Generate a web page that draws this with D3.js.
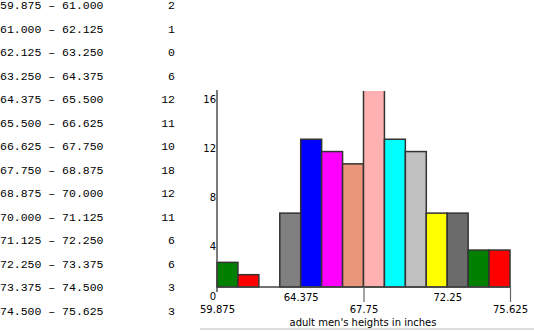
<!DOCTYPE html>
<html><head><meta charset="utf-8">
<script src="https://cdn.jsdelivr.net/npm/d3@7"></script>
<style>
html,body{margin:0;padding:0;background:#fff;}
svg{display:block;}
</style></head>
<body>
<svg id="c" width="534" height="331"></svg>
<script>
// ---- data ----
const binEdges = [59.875,61.000,62.125,63.250,64.375,65.500,66.625,67.750,68.875,70.000,71.125,72.250,73.375,74.500,75.625];
const counts = [2,1,0,6,12,11,10,18,12,11,6,6,3,3];
const barColors = ["#008000","#ff0000","#999999","#808080","#0000ff","#ff00ff","#e9967a","#ffb0b0","#00ffff","#c0c0c0","#ffff00","#6b6b6b","#008000","#ff0000"];
const xTickValues = [59.875,64.375,67.75,72.25,75.625];
const xTickLabels = ["59.875","64.375","67.75","72.25","75.625"];
const yTickValues = [0,4,8,12,16];
const xTitle = "adult men's heights in inches";

const svg = d3.select("#c");

// ---- table ----
const table = svg.append("g").attr("font-family","'Liberation Mono', monospace").attr("font-size","11.5px").attr("fill","#000");
counts.forEach((c,i)=>{
  const cy = 5 + 23.5*i;
  table.append("text").attr("x",0).attr("y",cy).attr("dy","0.35em")
    .text(binEdges[i].toFixed(3)+" \u2013 "+binEdges[i+1].toFixed(3));
  table.append("text").attr("x",175).attr("y",cy).attr("dy","0.35em").attr("text-anchor","end").text(c);
});

// ---- chart ----
const x = d3.scaleLinear().domain([binEdges[0], binEdges[binEdges.length-1]]).range([217,510]);
const y = d3.scaleLinear().domain([0,16]).range([287,90]);

svg.append("defs").append("clipPath").attr("id","clip")
  .append("rect").attr("x",200).attr("y",91).attr("width",334).attr("height",200);

const bars = svg.append("g").attr("clip-path","url(#clip)");
bars.selectAll("rect").data(counts.map((c,i)=>({c,i})).filter(d=>d.c>0)).join("rect")
  .attr("x",d=>x(binEdges[d.i]))
  .attr("width",d=>x(binEdges[d.i+1])-x(binEdges[d.i]))
  .attr("y",d=>y(d.c))
  .attr("height",d=>y(0)-y(d.c))
  .attr("fill",d=>barColors[d.i])
  .attr("stroke","#333")
  .attr("stroke-width",1.5);

// baseline
svg.append("line").attr("x1",x.range()[0]).attr("x2",x.range()[1]).attr("y1",y(0)).attr("y2",y(0))
  .attr("stroke","#444").attr("stroke-width",1.4);

// y axis
const yAxis = svg.append("g").attr("transform","translate(217,0)")
  .call(d3.axisLeft(y).tickValues(yTickValues).tickSize(0).tickPadding(1).tickFormat(d3.format("d")));
yAxis.select(".domain").remove();
yAxis.selectAll("text").attr("dy","1.2em").attr("font-family","'DejaVu Sans', sans-serif").attr("font-size","10px").attr("fill","#000");
svg.append("line").attr("x1",217).attr("x2",217).attr("y1",90).attr("y2",292).attr("stroke","#444").attr("stroke-width",1.4);

// x axis
const xAxis = svg.append("g").attr("transform","translate(0,"+y(0)+")")
  .call(d3.axisBottom(x).tickValues(xTickValues).tickSize(0).tickPadding(0).tickFormat((d,i)=>xTickLabels[i]));
xAxis.select(".domain").remove();
xAxis.selectAll(".tick").each(function(d,i){
  const t = d3.select(this);
  const row2 = (i%2===0);
  if (i>0 && row2) t.select("line").attr("y2",15).attr("stroke","#666").attr("stroke-width",1.2);
  t.select("text").attr("y", row2 ? 22 : 10).attr("dy","0.35em")
    .attr("font-family","'DejaVu Sans', sans-serif").attr("font-size","10px").attr("fill","#000");
});

// x title
svg.append("text").attr("x",363).attr("y",322).attr("dy","0.35em").attr("text-anchor","middle")
  .attr("font-family","'DejaVu Sans', sans-serif").attr("font-size","10px").attr("fill","#000").text(xTitle);

// bottom rule
svg.append("line").attr("x1",200).attr("x2",534).attr("y1",329).attr("y2",329).attr("stroke","#d0d0d0").attr("stroke-width",1.5);
</script>
</body></html>
